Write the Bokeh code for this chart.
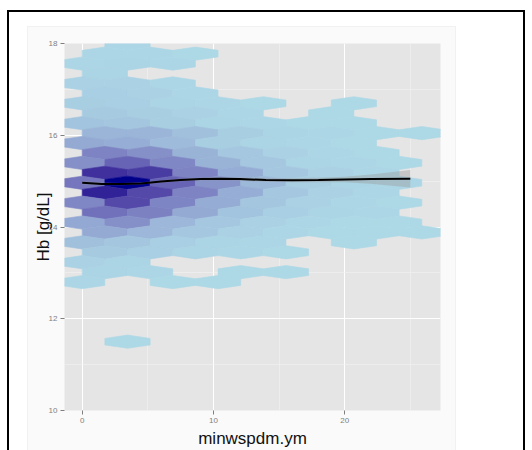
import numpy as np
from bokeh.plotting import figure
from bokeh.models import (ColumnDataSource, LinearColorMapper, FixedTicker,
                          Range1d, InlineStyleSheet)
from bokeh.transform import transform
from bokeh.embed import file_html
from bokeh.resources import INLINE

# ---------------- data ----------------
# hex-bin rows (row index: 0 = row through Hb ~14.96; even rows start at x=0,
# odd rows are shifted by half a bin). Each list = counts per column, 0 = empty.
hex_rows = [14, 13, 12, 11, 10, 9, 8, 7, 6, 5, 4, 3, 2, 1, 0,
            -1, -2, -3, -4, -5, -6, -7, -8, -9, -10, -16]
hex_counts = [
    [0, 2],
    [2, 2, 1],
    [2, 3, 2],
    [3],
    [4, 4, 2],
    [5, 4, 2],
    [6, 5, 3, 2, 1, 0, 1],
    [7, 6, 4, 2, 0, 1],
    [10, 9, 6, 3, 2, 1, 1],
    [17, 17, 12, 6, 3, 2, 1, 1],
    [22, 20, 14, 6, 3, 2, 1],
    [40, 34, 18, 8, 4, 2, 1],
    [34, 55, 38, 18, 8, 3, 2, 1],
    [80, 75, 40, 20, 8, 4, 2],
    [46, 100, 55, 32, 15, 6, 3, 2],
    [87, 68, 40, 20, 8, 4, 2],
    [38, 68, 39, 21, 9, 4, 2, 1],
    [49, 41, 22, 10, 5, 3, 2],
    [23, 34, 16, 8, 4, 2, 1, 1],
    [22, 16, 8, 4, 2, 1, 1, 1],
    [12, 9, 5, 3, 2, 0, 1],
    [7, 5, 3, 2, 1],
    [4, 3],
    [3, 2, 0, 1, 1],
    [2, 0, 1, 1],
    [0, 1],
]

smooth_x = [0, 1.5, 3, 4.5, 6, 7.5, 9, 10.5, 12, 14, 16, 18, 20, 22, 25]
smooth_y = [14.965, 14.94, 14.935, 14.95, 14.99, 15.025, 15.045, 15.05,
            15.045, 15.025, 15.02, 15.025, 15.035, 15.045, 15.05]
smooth_se = [0.04, 0.03, 0.025, 0.025, 0.025, 0.03, 0.03, 0.03, 0.035,
             0.04, 0.045, 0.05, 0.06, 0.1, 0.19]

x_ticks = [0, 10, 20]
x_minor = [5, 15, 25]
y_ticks = [10, 12, 14, 16, 18]
y_minor = [11, 13, 15, 17]

# ---------------- hex lattice (bin sizes) ----------------
HEX_W = 3.45                     # bin width in x
BIN_H = 0.25                     # bin width in y
ROW_STEP = BIN_H * np.sqrt(3) / 2
DY = BIN_H / (2 * np.sqrt(3))
Y_BASE, BASE_ROW = 11.5, -16

hx, hy, hc = [], [], []
for j, counts in zip(hex_rows, hex_counts):
    yc = Y_BASE + (j - BASE_ROW) * ROW_STEP
    off = 0.0 if j % 2 == 0 else HEX_W / 2
    for i, c in enumerate(counts):
        if c <= 0:
            continue
        xc = off + i * HEX_W
        hx.append([xc + HEX_W / 2, xc, xc - HEX_W / 2, xc - HEX_W / 2, xc, xc + HEX_W / 2])
        hy.append([yc + DY, yc + 2 * DY, yc + DY, yc - DY, yc - 2 * DY, yc - DY])
        hc.append(c)

# ---------------- Lab gradient lightblue -> darkblue ----------------
M = np.array([[0.4124564, 0.3575761, 0.1804375],
              [0.2126729, 0.7151522, 0.0721750],
              [0.0193339, 0.1191920, 0.9503041]])
MINV = np.linalg.inv(M)
WHITE = np.array([0.95047, 1.0, 1.08883])


def _lin(c):
    c = np.asarray(c, float) / 255
    return np.where(c <= 0.04045, c / 12.92, ((c + 0.055) / 1.055) ** 2.4)


def _gam(c):
    c = np.clip(c, 0, 1)
    c = np.where(c <= 0.0031308, 12.92 * c, 1.055 * np.power(c, 1 / 2.4) - 0.055)
    return np.clip(np.round(c * 255), 0, 255).astype(int)


def _f(t):
    return np.where(t > (6 / 29) ** 3, np.cbrt(t), t / (3 * (6 / 29) ** 2) + 4 / 29)


def _finv(t):
    return np.where(t > 6 / 29, t ** 3, 3 * (6 / 29) ** 2 * (t - 4 / 29))


def rgb2lab(rgb):
    fx, fy, fz = _f(M @ _lin(rgb) / WHITE)
    return np.array([116 * fy - 16, 500 * (fx - fy), 200 * (fy - fz)])


def lab2hex(lab):
    L, a, b = lab
    fy = (L + 16) / 116
    xyz = _finv(np.array([fy + a / 500, fy, fy - b / 200])) * WHITE
    r, g, bb = _gam(MINV @ xyz)
    return "#%02x%02x%02x" % (r, g, bb)


lo, hi = rgb2lab((173, 216, 230)), rgb2lab((0, 0, 139))
palette = [lab2hex((1 - t) * lo + t * hi) for t in np.linspace(0, 1, 256)]
mapper = LinearColorMapper(palette=palette, low=1, high=max(hc))

# ---------------- figure ----------------
page_css = InlineStyleSheet(css="""
:host { position: relative; overflow: hidden; background: transparent; }
:host::before {
  content: ""; position: absolute; left: 27px; top: 26px;
  width: 429px; height: 440px; box-sizing: border-box;
  background: #fafafa; border: 1px solid #f1f1f1; z-index: -1;
}
:host::after {
  content: ""; position: absolute; left: 7px; top: 10px;
  width: 518px; height: 470px; box-sizing: border-box;
  border: 2px solid #000; pointer-events: none; z-index: 50;
}
""")

p = figure(width=532, height=450, output_backend="svg", toolbar_location=None,
           x_range=Range1d(-1.35, 27.3), y_range=Range1d(10, 18),
           min_border_left=64, min_border_right=92, min_border_top=43,
           min_border_bottom=32, stylesheets=[page_css])
p.background_fill_color = "#e5e5e5"
p.border_fill_color = None
p.outline_line_color = None

src = ColumnDataSource(dict(xs=hx, ys=hy, count=hc))
p.patches("xs", "ys", source=src, fill_color=transform("count", mapper),
          line_color=transform("count", mapper), line_width=0.6)

lo_band = [y - s for y, s in zip(smooth_y, smooth_se)]
hi_band = [y + s for y, s in zip(smooth_y, smooth_se)]
p.varea(x=smooth_x, y1=lo_band, y2=hi_band, fill_color="#999999", fill_alpha=0.4)
p.line(smooth_x, smooth_y, line_color="black", line_width=2)

p.xaxis.ticker = FixedTicker(ticks=x_ticks, minor_ticks=x_minor)
p.yaxis.ticker = FixedTicker(ticks=y_ticks, minor_ticks=y_minor)
for g in (p.xgrid, p.ygrid):
    g.grid_line_color = "white"
    g.grid_line_width = 1
    g.minor_grid_line_color = "#f2f2f2"
    g.minor_grid_line_width = 0.6
    g.level = "image"

for ax in (p.xaxis, p.yaxis):
    ax.axis_line_color = None
    ax.major_tick_line_color = "#7f7f7f"
    ax.major_tick_out = 4
    ax.major_tick_in = 0
    ax.minor_tick_line_color = None
    ax.major_label_text_font = "Liberation Sans"
    ax.major_label_text_font_size = "8px"
    ax.major_label_text_color = "#7f7f7f"
    ax.major_label_standoff = 3
    ax.axis_label_text_font = "Liberation Sans"
    ax.axis_label_text_font_size = "17px"
    ax.axis_label_text_font_style = "normal"
    ax.axis_label_text_color = "#111111"

p.xaxis.axis_label = "minwspdm.ym"
p.xaxis.axis_label_standoff = 3
p.yaxis.axis_label = "Hb [g/dL]"
p.yaxis.axis_label_standoff = -7

with open("out.html", "w") as fh:
    fh.write(file_html(p, INLINE))
